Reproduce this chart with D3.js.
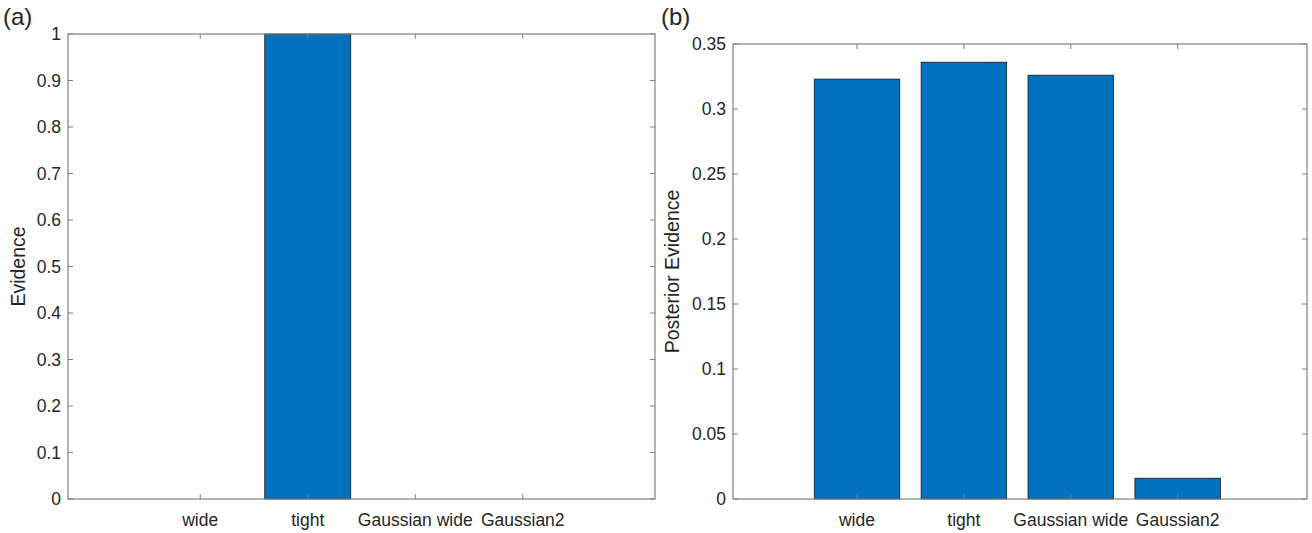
<!DOCTYPE html>
<html lang="en">
<head>
<meta charset="UTF-8">
<title>Evidence bars</title>
<script src="https://cdn.jsdelivr.net/npm/d3@7"></script>
<style>
  body { margin: 0; background: #fff; }
  svg text { font-family: "Liberation Sans", Arial, sans-serif; fill: #262626; }
</style>
</head>
<body>
<svg id="chart" width="1312" height="533"></svg>
<script>
// data
const categories = ['wide', 'tight', 'Gaussian wide', 'Gaussian2'];
const evidence = [0, 1, 0, 0];
const posteriorEvidence = [0.323, 0.336, 0.326, 0.016];
const evidenceTicks = d3.range(0, 1.0001, 0.1);
const posteriorTicks = d3.range(0, 0.35001, 0.05);

const svg = d3.select('#chart');
const axisColor = '#808080';
const barColor = '#0072BD';

function panel(cfg) {
    const x = d3.scaleLinear().domain(cfg.xDomain).range([cfg.left, cfg.right]);
    const y = d3.scaleLinear().domain(cfg.yDomain).range([cfg.bottom, cfg.top]);
    const g = svg.append('g');
    const barW = x(0.8) - x(0);
    const bars = cfg.values.map((v, i) => ({ v, i })).filter(d => d.v > 0);

    g.selectAll('rect.bar')
        .data(bars)
        .enter()
        .append('rect')
        .attr('x', d => x(d.i + 1) - barW / 2)
        .attr('y', d => y(d.v))
        .attr('width', barW)
        .attr('height', d => y(0) - y(d.v))
        .attr('fill', barColor)
        .attr('stroke', '#1a1a1a')
        .attr('stroke-width', 0.8);

    // box
    g.append('rect')
        .attr('x', cfg.left).attr('y', cfg.top)
        .attr('width', cfg.right - cfg.left).attr('height', cfg.bottom - cfg.top)
        .attr('fill', 'none').attr('stroke', axisColor).attr('stroke-width', 1.2);

    const tl = 5;
    // y ticks (left & right, inward)
    cfg.yTicks.forEach(t => {
        const yy = y(t);
        g.append('line').attr('x1', cfg.left).attr('x2', cfg.left + tl).attr('y1', yy).attr('y2', yy)
            .attr('stroke', axisColor);
        g.append('line').attr('x1', cfg.right).attr('x2', cfg.right - tl).attr('y1', yy).attr('y2', yy)
            .attr('stroke', axisColor);
        g.append('text').attr('x', cfg.left - 7).attr('y', yy + 6)
            .attr('text-anchor', 'end').attr('font-size', 17.5)
            .text(d3.format('~g')(+t.toFixed(2)));
    });
    // x ticks (bottom & top, inward)
    categories.forEach((c, i) => {
        const xx = x(i + 1);
        g.append('line').attr('x1', xx).attr('x2', xx).attr('y1', cfg.bottom).attr('y2', cfg.bottom - tl)
            .attr('stroke', axisColor);
        g.append('line').attr('x1', xx).attr('x2', xx).attr('y1', cfg.top).attr('y2', cfg.top + tl)
            .attr('stroke', axisColor);
        g.append('text').attr('x', xx).attr('y', cfg.bottom + 27)
            .attr('text-anchor', 'middle').attr('font-size', 17.5)
            .text(c);
    });

    g.append('text')
        .attr('transform', `translate(${cfg.ylabelX},${(cfg.top + cfg.bottom) / 2}) rotate(-90)`)
        .attr('text-anchor', 'middle').attr('font-size', 19.5)
        .text(cfg.ylabel);

    g.append('text').attr('x', cfg.tagX).attr('y', 25).attr('font-size', 24).text(cfg.tag);
}

panel({
    values: evidence, yTicks: evidenceTicks, yDomain: [0, 1],
    xDomain: [-0.23, 5.23], left: 68, right: 655, top: 34, bottom: 499,
    ylabel: 'Evidence', ylabelX: 25, tag: '(a)', tagX: 3
});
panel({
    values: posteriorEvidence, yTicks: posteriorTicks, yDomain: [0, 0.35],
    xDomain: [-0.16, 5.21], left: 733, right: 1307, top: 44, bottom: 499,
    ylabel: 'Posterior Evidence', ylabelX: 679, tag: '(b)', tagX: 661
});
</script>
</body>
</html>
